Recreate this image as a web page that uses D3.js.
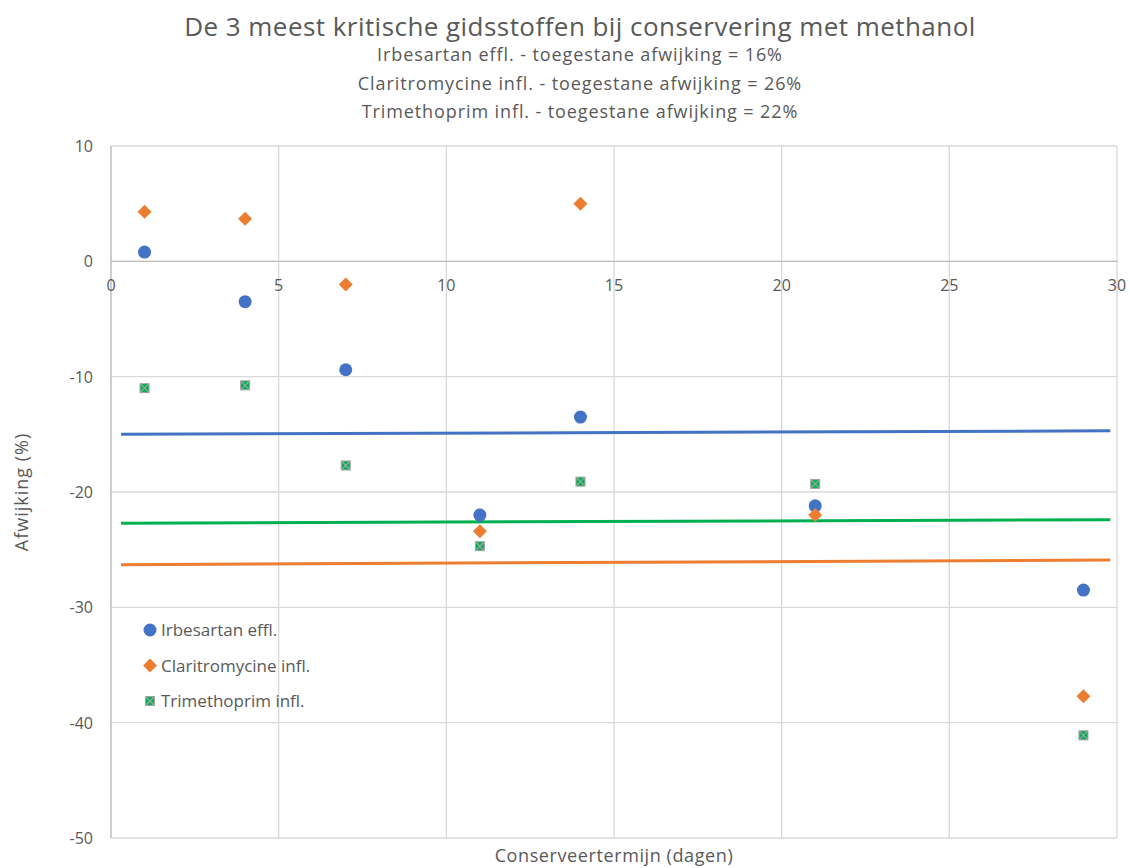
<!DOCTYPE html>
<html><head><meta charset="utf-8">
<script src="https://cdn.jsdelivr.net/npm/d3@7"></script>
<style>body{margin:0;background:#fff}svg text{font-family:"Open Sans",sans-serif;fill:#595959}</style>
</head><body><svg id="c" width="1130" height="868"></svg>
<script>
const days = [1, 4, 7, 11, 14, 21, 29];
const irbesartan = [0.8, -3.5, -9.4, -22.0, -13.5, -21.2, -28.5];
const claritromycine = [4.3, 3.7, -2.0, -23.4, 5.0, -22.0, -37.7];
const trimethoprim = [-11.0, -10.75, -17.7, -24.7, -19.1, -19.3, -41.1];
const limitX = [0.3, 29.8];
const limitIrb = [-15.0, -14.7];
const limitCla = [-26.3, -25.9];
const limitTri = [-22.7, -22.4];
const xTicks = [0, 5, 10, 15, 20, 25, 30];
const yTicks = [10, 0, -10, -20, -30, -40, -50];
const title = "De 3 meest kritische gidsstoffen bij conservering met methanol";
const subtitles = ["Irbesartan effl. - toegestane afwijking = 16%", "Claritromycine infl. - toegestane afwijking = 26%", "Trimethoprim infl. - toegestane afwijking = 22%"];
const seriesNames = ["Irbesartan effl.", "Claritromycine infl.", "Trimethoprim infl."];

const svg = d3.select("#c");
const x = d3.scaleLinear().domain([0, 30]).range([111, 1117]);
const y = d3.scaleLinear().domain([-50, 10]).range([838, 146]);
const BLUE = "#4472C4", ORANGE = "#ED7D31", GREEN = "#00B050";

// grid
svg.append("g").selectAll("line").data(xTicks.slice(1)).join("line")
  .attr("x1", d => x(d)).attr("x2", d => x(d)).attr("y1", y(10)).attr("y2", y(-50))
  .attr("stroke", "#d9d9d9").attr("stroke-width", 1.3);
svg.append("g").selectAll("line").data(yTicks).join("line")
  .attr("x1", x(0)).attr("x2", x(30)).attr("y1", d => y(d)).attr("y2", d => y(d))
  .attr("stroke", "#d9d9d9").attr("stroke-width", 1.3);
svg.append("line").attr("x1", x(0)).attr("x2", x(0)).attr("y1", y(10)).attr("y2", y(-50))
  .attr("stroke", "#bfbfbf").attr("stroke-width", 1.5);
svg.append("line").attr("x1", x(0)).attr("x2", x(30)).attr("y1", y(0)).attr("y2", y(0))
  .attr("stroke", "#bfbfbf").attr("stroke-width", 1.3);

// tick labels
svg.append("g").selectAll("text").data(yTicks).join("text")
  .attr("x", 93).attr("y", d => y(d) + 6).attr("text-anchor", "end")
  .attr("font-size", 16).text(d => d);
svg.append("g").selectAll("text").data(xTicks).join("text")
  .attr("x", d => x(d)).attr("y", y(0) + 30).attr("text-anchor", "middle")
  .attr("font-size", 16).text(d => d);

// limit lines
const line = d3.line().x(d => x(d[0])).y(d => y(d[1]));
[[limitIrb, BLUE], [limitTri, GREEN], [limitCla, ORANGE]].forEach(([v, c]) => {
  svg.append("path").attr("d", line(limitX.map((d, i) => [d, v[i]])))
    .attr("stroke", c).attr("stroke-width", 3).attr("fill", "none");
});

// markers
function circle(g, cx, cy) {
  g.append("circle").attr("cx", cx).attr("cy", cy).attr("r", 6.5).attr("fill", BLUE);
}
function diamond(g, cx, cy) {
  const s = 7;
  g.append("path").attr("d", `M${cx},${cy - s}L${cx + s},${cy}L${cx},${cy + s}L${cx - s},${cy}Z`).attr("fill", ORANGE);
}
function xsquare(g, cx, cy) {
  const s = 4.5;
  g.append("rect").attr("x", cx - s).attr("y", cy - s).attr("width", 2 * s).attr("height", 2 * s)
    .attr("fill", GREEN).attr("stroke", "#a5a5a5").attr("stroke-width", 1);
  g.append("path").attr("d", `M${cx - s},${cy - s}L${cx + s},${cy + s}M${cx + s},${cy - s}L${cx - s},${cy + s}`)
    .attr("stroke", "#a5a5a5").attr("stroke-width", 1.2);
}
const pts = svg.append("g");
days.forEach((d, i) => circle(pts, x(d), y(irbesartan[i])));
days.forEach((d, i) => diamond(pts, x(d), y(claritromycine[i])));
days.forEach((d, i) => xsquare(pts, x(d), y(trimethoprim[i])));

// legend
const markers = [circle, diamond, xsquare];
const leg = svg.append("g");
seriesNames.forEach((n, i) => {
  const ly = 630 + i * 35.5;
  markers[i](leg, 150, ly);
  leg.append("text").attr("x", 161).attr("y", ly + 6).attr("font-size", 17).text(n);
});

// titles
svg.append("text").attr("x", 580).attr("y", 36).attr("text-anchor", "middle")
  .attr("font-size", 26).attr("letter-spacing", 0.45).text(title);
subtitles.forEach((s, i) => {
  svg.append("text").attr("x", 580).attr("y", 61 + i * 28.5).attr("text-anchor", "middle")
    .attr("font-size", 18).attr("letter-spacing", 0.9).text(s);
});
svg.append("text").attr("transform", `translate(28,${y(-20)}) rotate(-90)`)
  .attr("text-anchor", "middle").attr("font-size", 18).attr("letter-spacing", 1).text("Afwijking (%)");
svg.append("text").attr("x", 614).attr("y", 862).attr("text-anchor", "middle")
  .attr("font-size", 18).attr("letter-spacing", 0.6).text("Conserveertermijn (dagen)");
</script></body></html>
